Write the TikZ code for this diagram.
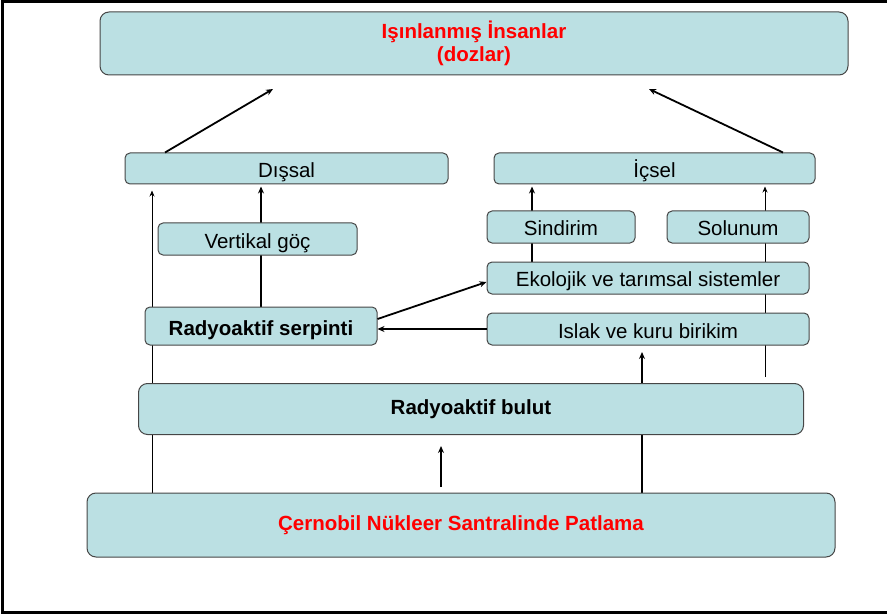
\documentclass[tikz,border=0pt]{standalone}
\usepackage{fontspec}
\setmainfont{Liberation Sans}
\usetikzlibrary{arrows.meta,calc}
\pgfdeclarelayer{background}
\pgfsetlayers{background,main}
\definecolor{boxfill}{RGB}{187,224,227}
\definecolor{boxline}{RGB}{70,70,70}
\definecolor{redtext}{RGB}{255,0,0}
\begin{document}
\begin{tikzpicture}[x=1pt,y=-1pt,
  box/.style={draw=boxline,fill=boxfill,line width=1pt,rounded corners=5pt,inner sep=0pt,
    font=\fontsize{20.5}{24}\selectfont},
  smallbox/.style={box,text height=18pt,text depth=0pt},
  bigbox/.style={box,rounded corners=9pt},
  boldtext/.style={font=\fontsize{20.5}{24}\selectfont\bfseries},
  thickarrow/.style={line width=1.8pt,-{Stealth[length=7pt,width=6pt]}},
  thinarrow/.style={line width=0.8pt,-{Stealth[length=6pt,width=5pt]}},
  frame/.style={line width=2.6pt,black}]
\useasboundingbox (0,0) rectangle (887,615);
% frame
\draw[frame] (887,1.3) -- (2.3,1.3) -- (2.3,612.7) -- (887,612.7);
% nodes
\node[bigbox,minimum width=748pt,minimum height=63pt,align=center,text=redtext,font=\fontsize{20.5}{23}\selectfont\bfseries] (top) at (474,43.5) {Işınlanmış İnsanlar\\(dozlar)};
\node[smallbox,minimum width=323pt,minimum height=31pt] (dis) at (286.5,168.5) {Dışsal};
\node[smallbox,minimum width=321pt,minimum height=31pt] (ic) at (654.5,168.5) {İçsel};
\node[smallbox,minimum width=199pt,minimum height=32pt] (vg) at (257.5,239) {Vertikal göç};
\node[smallbox,minimum width=148pt,minimum height=32pt] (sin) at (561,227) {Sindirim};
\node[smallbox,minimum width=142pt,minimum height=32pt] (sol) at (738,227) {Solunum};
\node[smallbox,minimum width=322pt,minimum height=32pt] (eko) at (648,278) {Ekolojik ve tarımsal sistemler};
\node[smallbox,minimum width=322pt,minimum height=32pt] (isl) at (648,329) {Islak ve kuru birikim};
\node[smallbox,boldtext,minimum width=232pt,minimum height=38pt] (serp) at (261,326) {Radyoaktif serpinti};
\node[bigbox,boldtext,minimum width=665pt,minimum height=51pt] (bul) at (471,409) {Radyoaktif bulut};
\node[bigbox,boldtext,minimum width=748pt,minimum height=64pt,text=redtext] (cer) at (461,525) {Çernobil Nükleer Santralinde Patlama};
% free coordinates
\coordinate (x152) at (152,0);
\coordinate (x261) at (261,0);
\coordinate (x532) at (532,0);
\coordinate (x765) at (765,0);
\coordinate (x642) at (642,0);
\coordinate (x165) at (165,0);
\coordinate (x783) at (783,0);
\coordinate (tl) at (273,89);
\coordinate (tr) at (649,89);
\coordinate (s765) at (765,377);
\coordinate (t642) at (642,352);
\coordinate (b441) at (441,487);
\coordinate (t441) at (441,446);
\begin{pgfonlayer}{background}
\draw[thinarrow,shorten >=6pt] (x152 |- cer.north) -- (x152 |- dis.south);
\draw[thickarrow,shorten >=2pt] (x261 |- serp.north) -- (x261 |- dis.south);
\draw[thickarrow,shorten >=2pt] (x532 |- eko.north) -- (x532 |- ic.south);
\draw[thinarrow,shorten >=2pt] (s765) -- (x765 |- ic.south);
\draw[thickarrow] (x642 |- cer.north) -- (t642);
\end{pgfonlayer}
\draw[thickarrow] (x165 |- dis.north) -- (tl);
\draw[thickarrow] (x783 |- ic.north) -- (tr);
\draw[thickarrow] (serp.east |- 0,319) -- (eko.west |- 0,282);
\draw[thickarrow] (isl.west) -- (serp.east |- isl.west);
\draw[thickarrow] (b441) -- (t441);
\end{tikzpicture}
\end{document}
